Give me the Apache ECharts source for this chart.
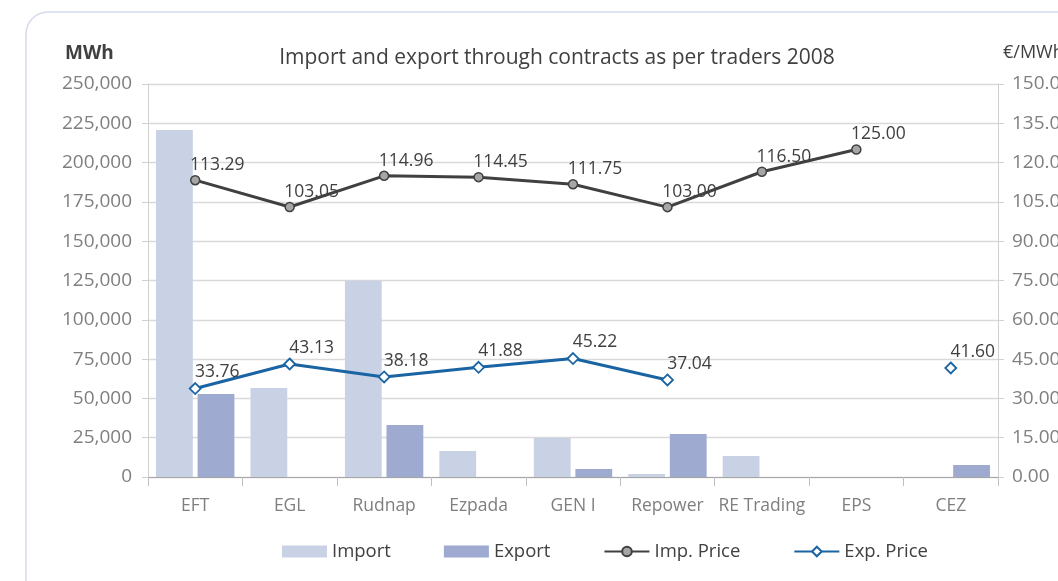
<!doctype html>
<html>
    <head>
        <meta charset="utf-8">
        <title>Import and export through contracts</title>
        <style>
            html, body { margin: 0; padding: 0; background: #fff; }
            #main { width: 1058px; height: 581px; }
        </style>
    </head>
    <body>
        <div id="main"></div>
        <script src="https://cdn.jsdelivr.net/npm/echarts@6/dist/echarts.min.js"></script>
        <script>
            var traders = ['EFT', 'EGL', 'Rudnap', 'Ezpada', 'GEN I', 'Repower', 'RE Trading', 'EPS', 'CEZ'];
            var importMWh = [220700, 56600, 124800, 16500, 24800, 1900, 13400, 0, 0];
            var exportMWh = [52800, 0, 33100, 0, 5100, 27400, 0, 0, 7600];
            var impPrice = [113.29, 103.05, 114.96, 114.45, 111.75, 103.00, 116.50, 125.00, null];
            var expPrice = [33.76, 43.13, 38.18, 41.88, 45.22, 37.04, null, null, 41.60];

            var font = '"Open Sans", Lato, sans-serif';
            var chart = echarts.init(document.getElementById('main'));

            var priceLabel = {
                show: true,
                position: 'top',
                distance: 1,
                offset: [22, 0],
                color: '#404040',
                fontFamily: font,
                fontSize: 17.5,
                formatter: function (p) { return p.value.toFixed(2); }
            };

            chart.setOption({
                animation: false,
                textStyle: { fontFamily: font },
                graphic: [
                    {
                        type: 'rect',
                        shape: { x: 26, y: 12, width: 1100, height: 640, r: 22 },
                        style: { fill: 'none', stroke: '#d6dbec', lineWidth: 1.5 },
                        silent: true
                    },
                    {
                        type: 'text',
                        left: 65, top: 44,
                        style: { text: 'MWh', font: 'bold 19px ' + font, fill: '#404040' }
                    },
                    {
                        type: 'text',
                        left: 1003, top: 44,
                        style: { text: '€/MWh', font: '18px ' + font, fill: '#404040' }
                    }
                ],
                title: {
                    text: 'Import and export through contracts as per traders 2008',
                    left: 552, top: 43,
                    textAlign: 'center',
                    textStyle: { color: '#404040', fontSize: 21, fontWeight: 'normal', fontFamily: font }
                },
                legend: {
                    bottom: 15,
                    left: 277,
                    itemWidth: 45,
                    itemHeight: 12,
                    itemGap: 53,
                    textStyle: { color: '#404040', fontSize: 18.5, fontFamily: font },
                    data: [
                        { name: 'Import', icon: 'rect' },
                        { name: 'Export', icon: 'rect' },
                        { name: 'Imp. Price' },
                        { name: 'Exp. Price' }
                    ]
                },
                grid: { left: 148, right: 60, top: 84, bottom: 104, outerBoundsMode: 'none' },
                xAxis: {
                    type: 'category',
                    data: traders,
                    axisLine: { lineStyle: { color: '#a6a6a6' } },
                    axisTick: { show: true, length: 9, inside: false, lineStyle: { color: '#bfbfbf' } },
                    axisLabel: { color: '#7f7f7f', fontSize: 17.5, margin: 20, fontFamily: font, interval: 0 }
                },
                yAxis: [
                    {
                        type: 'value',
                        min: 0, max: 250000, interval: 25000,
                        axisLine: { show: true, lineStyle: { color: '#d0d0d0' } },
                        axisTick: { show: true, length: 6, lineStyle: { color: '#d0d0d0' } },
                        axisLabel: {
                            color: '#7f7f7f', fontSize: 19, margin: 16, fontFamily: font,
                            formatter: function (v) { return v.toLocaleString('en-US'); }
                        },
                        splitLine: { lineStyle: { color: '#d9d9d9', width: 1.3 } }
                    },
                    {
                        type: 'value',
                        min: 0, max: 150, interval: 15,
                        axisLine: { show: true, lineStyle: { color: '#d0d0d0' } },
                        axisTick: { show: true, length: 6, lineStyle: { color: '#d0d0d0' } },
                        axisLabel: {
                            color: '#7f7f7f', fontSize: 19, margin: 14, fontFamily: font,
                            formatter: function (v) { return v.toFixed(2); }
                        },
                        splitLine: { show: false }
                    }
                ],
                series: [
                    {
                        name: 'Import',
                        type: 'bar',
                        data: importMWh,
                        barCategoryGap: '17%',
                        barGap: '13%',
                        itemStyle: { color: '#c9d2e5' }
                    },
                    {
                        name: 'Export',
                        type: 'bar',
                        data: exportMWh,
                        itemStyle: { color: '#9eaad0' }
                    },
                    {
                        name: 'Imp. Price',
                        type: 'line',
                        yAxisIndex: 1,
                        data: impPrice,
                        symbol: 'circle',
                        symbolSize: 9,
                        showAllSymbol: true,
                        lineStyle: { color: '#404040', width: 3 },
                        itemStyle: { color: '#a6a6a6', borderColor: '#404040', borderWidth: 1.5 },
                        label: priceLabel,
                        z: 5
                    },
                    {
                        name: 'Exp. Price',
                        type: 'line',
                        yAxisIndex: 1,
                        data: expPrice,
                        symbol: 'diamond',
                        symbolSize: 11,
                        showAllSymbol: true,
                        lineStyle: { color: '#1a64a3', width: 3 },
                        itemStyle: { color: '#ffffff', borderColor: '#1a64a3', borderWidth: 1.8 },
                        label: priceLabel,
                        z: 5
                    }
                ]
            });

            window.onresize = chart.resize;
        </script>
    </body>
</html>
